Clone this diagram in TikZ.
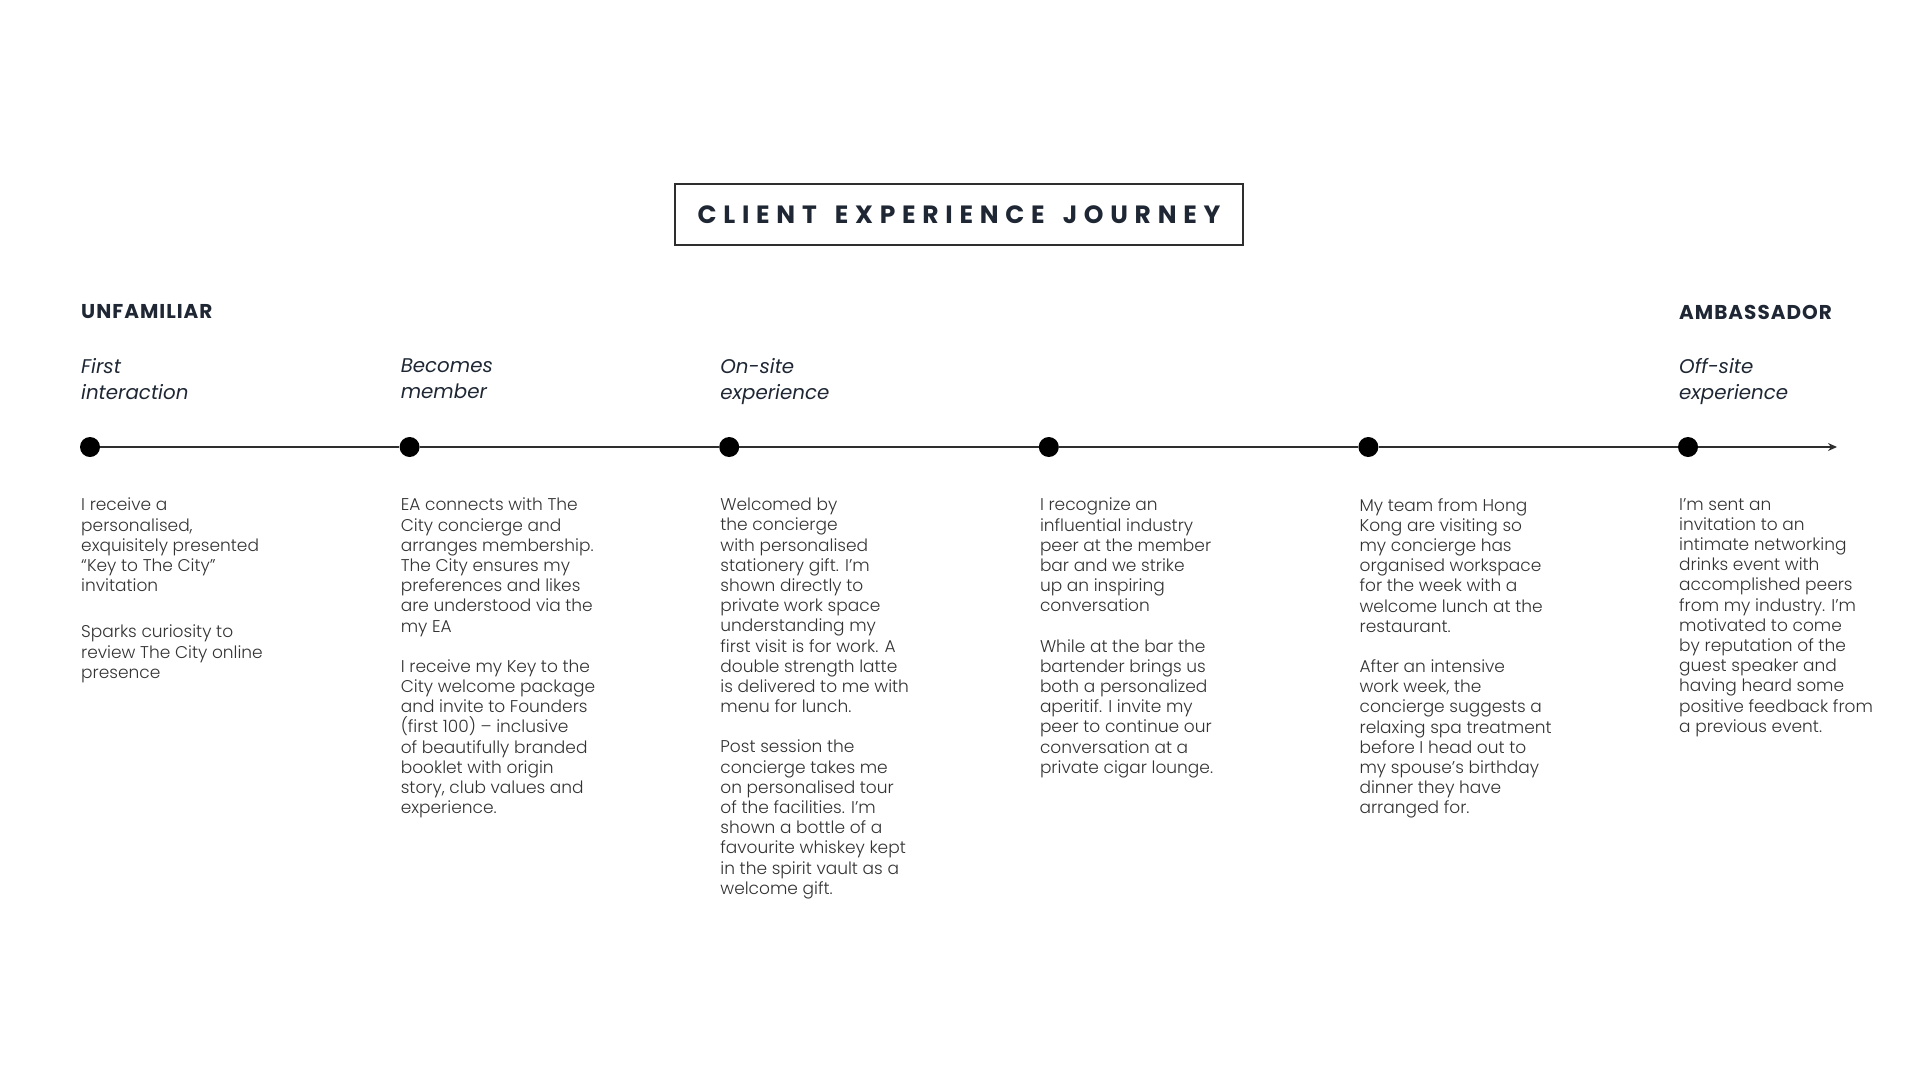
\documentclass[tikz,border=0pt]{standalone}
\usepackage{fontspec}
\setmainfont{Poppins}
\newfontfamily\storyfont{Poppins Light}
\usetikzlibrary{arrows.meta}
\definecolor{inkNavy}{HTML}{1E2733}
\definecolor{bodyGray}{HTML}{333333}
\definecolor{lineGray}{HTML}{2E2E2E}

\begin{document}
\begin{tikzpicture}[
  x=1pt,y=-1pt,
  heading/.style={rectangle,draw=lineGray,line width=1.4pt,minimum width=568pt,minimum height=61pt,text=inkNavy,font=\fontsize{25}{30}\selectfont\bfseries\addfontfeatures{LetterSpace=27}},
  stage/.style={anchor=west,inner sep=0pt,text=inkNavy,font=\fontsize{20}{24}\selectfont\bfseries\addfontfeatures{LetterSpace=5}},
  phase/.style={anchor=north west,align=left,inner sep=0pt,text=inkNavy,execute at begin node=\strut,font=\fontsize{19.8}{25.5}\selectfont\itshape},
  story/.style={anchor=north west,align=left,inner sep=0pt,text=bodyGray,execute at begin node=\strut,font=\storyfont\fontsize{17}{20.2}\selectfont},
  stop/.style={circle,fill=black,inner sep=0pt,minimum size=20pt},
  track/.style={line width=1.4pt,draw=lineGray}
]
\useasboundingbox (0,0) rectangle (1920,1080);
% title and the two ends of the journey
\node[heading] (title) at (959,214.5) {CLIENT\hspace{6pt} EXPERIENCE\hspace{6pt} JOURNEY};
\node[stage] (unfamiliar) at (81,312) {UNFAMILIAR};
\node[stage] (ambassador) at (1679,312) {AMBASSADOR};
% timeline
\foreach \i/\x in {1/90,2/409.6,3/729.2,4/1048.8,5/1368.4,6/1688}
  \node[stop] (stop\i) at (\x,447) {};
\coordinate (tip) at (1837,447);
\foreach \a/\b in {1/2,2/3,3/4,4/5,5/6}
  \draw[track] (stop\a) -- (stop\b);
\draw[track,-{Stealth[length=9pt,width=8pt]}] (stop6) -- (tip);
% phase labels
\node[phase] (first) at (81,358.5) {First\\interaction};
\node[phase] (member) at (400.6,358.5) {Becomes\\member};
\node[phase] (onsite) at (720.2,358.5) {On-site\\experience};
\node[phase] (offsite) at (1679,358.5) {Off-site\\experience};
% stories under each stop
\node[story] (invite) at (81,498) {I receive a\\personalised,\\exquisitely presented\\“Key to The City”\\invitation\\[26pt]
  Sparks curiosity to\\review The City online\\presence};
\node[story] (join) at (400.6,498) {EA connects with The\\City concierge and\\arranges membership.\\The City ensures my\\preferences and likes\\are understood via the\\my EA\\[20pt]
  I receive my Key to the\\City welcome package\\and invite to Founders\\(first 100) – inclusive\\of beautifully branded\\booklet with origin\\story, club values and\\experience.};
\node[story] (visit) at (720.2,498) {Welcomed by\\the concierge\\with personalised\\stationery gift. I’m\\shown directly to\\private work space\\understanding my\\first visit is for work. A\\double strength latte\\is delivered to me with\\menu for lunch.\\[20pt]
  Post session the\\concierge takes me\\on personalised tour\\of the facilities. I’m\\shown a bottle of a\\favourite whiskey kept\\in the spirit vault as a\\welcome gift.};
\node[story] (peer) at (1039.8,498) {I recognize an\\influential industry\\peer at the member\\bar and we strike\\up an inspiring\\conversation\\[20pt]
  While at the bar the\\bartender brings us\\both a personalized\\aperitif. I invite my\\peer to continue our\\conversation at a\\private cigar lounge.};
\node[story] (team) at (1359.4,498) {My team from Hong\\Kong are visiting so\\my concierge has\\organised workspace\\for the week with a\\welcome lunch at the\\restaurant.\\[20pt]
  After an intensive\\work week, the\\concierge suggests a\\relaxing spa treatment\\before I head out to\\my spouse’s birthday\\dinner they have\\arranged for.};
\node[story] (event) at (1679,498) {I’m sent an\\invitation to an\\intimate networking\\drinks event with\\accomplished peers\\from my industry. I’m\\motivated to come\\by reputation of the\\guest speaker and\\having heard some\\positive feedback from\\a previous event.};
\end{tikzpicture}
\end{document}
